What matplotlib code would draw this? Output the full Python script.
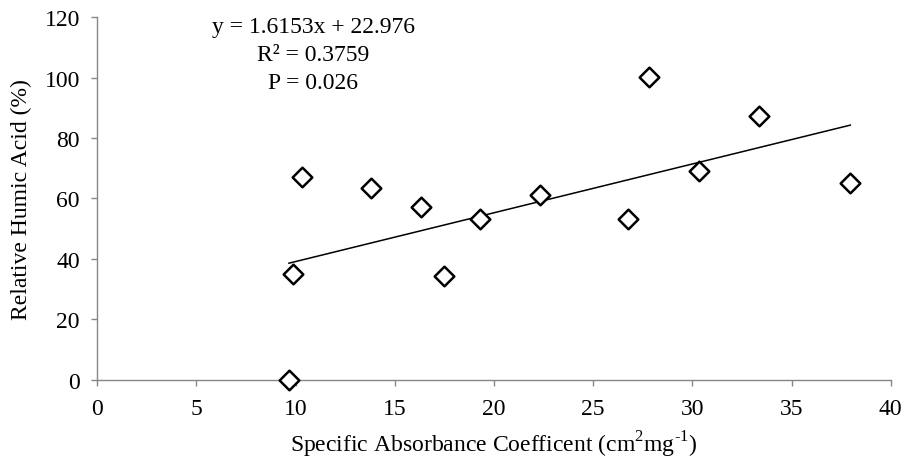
import numpy as np
import matplotlib.pyplot as plt

# ── Data ──────────────────────────────────────────────────────
sac = [9.66, 9.88, 10.34, 13.78, 16.33, 17.48, 19.31, 22.30,
       26.77, 27.83, 30.35, 33.38, 37.96]
rha = [0.0, 35.0, 67.0, 63.5, 57.1, 34.2, 53.2, 61.3,
       53.2, 100.1, 69.0, 87.2, 65.1]
slope, intercept = 1.6153, 22.976
eq_lines = ["y = 1.6153x + 22.976", "R² = 0.3759", "P = 0.026"]
x_ticks = [0, 5, 10, 15, 20, 25, 30, 35, 40]
y_ticks = [0, 20, 40, 60, 80, 100, 120]

# ── Style ─────────────────────────────────────────────────────
plt.rcParams['font.family'] = ['Liberation Serif', 'DejaVu Serif']
plt.rcParams['mathtext.fontset'] = 'custom'
plt.rcParams['mathtext.rm'] = 'Liberation Serif'
FS = 17
AXIS_GREY = '#868686'

fig = plt.figure(figsize=(9.06, 4.64), dpi=100)
ax = fig.add_axes([0.1074, 0.1795, 0.8758, 0.7811])

ax.scatter(sac, rha, marker='D', s=100, facecolor='white',
           edgecolor='black', linewidth=1.8, zorder=3, clip_on=False)

xs = np.array([min(sac), max(sac)])
ax.plot(xs, slope * xs + intercept, color='black', lw=1.1, zorder=2)

ax.set_xlim(0, 40)
ax.set_ylim(0, 120)
ax.set_xticks(x_ticks)
ax.set_yticks(y_ticks)
ax.tick_params(axis='both', direction='out', length=4.5, width=1,
               color=AXIS_GREY, labelsize=FS)
ax.tick_params(axis='x', pad=9)
ax.tick_params(axis='y', pad=8)
for side in ('top', 'right'):
    ax.spines[side].set_visible(False)
for side in ('left', 'bottom'):
    ax.spines[side].set_color(AXIS_GREY)
    ax.spines[side].set_linewidth(1)
ax.patch.set_alpha(0)

ax.set_xlabel(r"Specific Absorbance Coefficent (cm$^{\text{2}}$mg$^{\text{-1}}$)",
              fontsize=FS, labelpad=7)
ax.set_ylabel("Relative Humic Acid (%)", fontsize=FS, labelpad=9)

# equation block, one line at a time (baselines in pixels from top)
for line, base_px in zip(eq_lines, [33, 61, 89]):
    fig.text(313 / 906, 1 - base_px / 464, line, ha='center',
             va='baseline', fontsize=FS)

fig.savefig("out.png", dpi=100)
